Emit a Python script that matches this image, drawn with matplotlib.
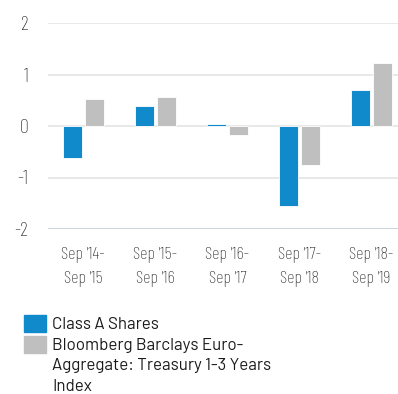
import matplotlib

matplotlib.use("Agg")
import matplotlib.pyplot as plt
from matplotlib.patches import Rectangle
import numpy as np

# Calendar-year performance (%) by September-to-September period
periods = ["Sep '14-\nSep '15", "Sep '15-\nSep '16", "Sep '16-\nSep '17",
           "Sep '17-\nSep '18", "Sep '18-\nSep '19"]
class_a = [-0.62, 0.38, 0.03, -1.55, 0.70]
index_ret = [0.52, 0.57, -0.17, -0.75, 1.23]
series_names = ["Class A Shares",
                "Bloomberg Barclays Euro-\nAggregate: Treasury 1-3 Years\nIndex"]
yticks = [-2, -1, 0, 1, 2]

BLUE = "#118acb"
GREY = "#bfbfbf"
INK = "#1e1e1e"
GRID = "#e2e2e2"
BASE = "#c9d4e0"

NARROW = ["Barlow Condensed", "DejaVu Sans"]
BODY = ["Barlow", "DejaVu Sans"]

fig = plt.figure(figsize=(3.98, 3.94), dpi=100)
ax = fig.add_axes([48 / 398, 165 / 394, 350 / 398, 206 / 394])

x = np.arange(len(periods))
w = 0.264
ax.bar(x - 0.153, class_a, width=w, color=BLUE, edgecolor="white", linewidth=0.6, zorder=3)
ax.bar(x + 0.153, index_ret, width=w, color=GREY, edgecolor="white", linewidth=0.6, zorder=3)

ax.set_xlim(-0.49, 4.37)
ax.set_ylim(-2, 2)
ax.set_yticks(yticks)
ax.set_yticklabels([str(t) for t in yticks], family=NARROW, fontsize=14.5,
                   fontweight="light", color=INK)
for t in yticks:
    ax.axhline(t, color=BASE if t == -2 else GRID, linewidth=1.4 if t == -2 else 1.1, zorder=1)

ax.set_xticks(x)
ax.set_xticklabels(periods, family=NARROW, fontsize=13, fontweight="light",
                   color=INK, linespacing=1.7)
ax.tick_params(axis="both", length=0)
ax.tick_params(axis="y", pad=14)
ax.tick_params(axis="x", pad=13)
for s in ax.spines.values():
    s.set_visible(False)

# legend drawn by hand so the swatch sits on the first line of a wrapped label
swatch_top = [315, 336]
for color, name, top in zip([BLUE, GREY], series_names, swatch_top):
    fig.patches.append(Rectangle((24 / 398, 1 - (top + 17) / 394), 22 / 398, 17 / 394,
                                 transform=fig.transFigure, color=color))
    fig.text(52 / 398, 1 - (top + 2) / 394, name, family=BODY, fontsize=12.2,
             color="#1a1a1a", va="top", ha="left", linespacing=1.45)

fig.savefig("out.png", dpi=100)
